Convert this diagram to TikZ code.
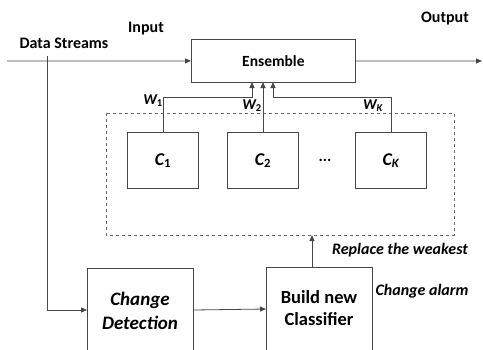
\documentclass[tikz,border=0pt]{standalone}
\usepackage{fontspec}
\setmainfont{Carlito}
\usetikzlibrary{arrows.meta}
\begin{document}
\begin{tikzpicture}[x=1pt,y=-1pt,
  line width=0.8pt,
  wire/.style={draw=black!72},
  flow/.style={wire,-{Triangle[length=6pt,width=5pt]}},
  box/.style={draw=black!72,fill=white,inner sep=0pt},
  lbl/.style={font=\bfseries\fontsize{16}{18}\selectfont},
  ilbl/.style={font=\bfseries\itshape\fontsize{16}{18}\selectfont},
  wlbl/.style={font=\bfseries\itshape\fontsize{15}{16}\selectfont},
  cls/.style={box,minimum width=71pt,minimum height=56pt,font=\bfseries\itshape\fontsize{18}{20}\selectfont},
  big/.style={box,minimum width=106pt,minimum height=110pt,anchor=north west}]
\useasboundingbox (0,0) rectangle (483,349);

% ensemble
\node[box,minimum width=164pt,minimum height=43pt,anchor=north west,font=\bfseries\fontsize{15.5}{17}\selectfont] (ens) at (191,39) {Ensemble};

% data stream input / output
\coordinate (in) at (7,61);
\coordinate (out) at (482,61);
\coordinate (tap) at (47,56);
\draw[flow] (in) -- (ens.west);
\draw[flow] (ens.east) -- (out);
\node[lbl] (tin) at (146,29) {Input};
\node[lbl] (tds) at (64,43) {Data Streams};
\node[lbl] (tout) at (445,19) {Output};

% ensemble members
\draw[wire,dashed,draw=black!60] (106,113) rectangle (454,235);
\node[cls,anchor=north west] (c1) at (127,132) {C\textsubscript{\upshape 1}};
\node[cls,anchor=north west] (c2) at (227,132) {C\textsubscript{\upshape 2}};
\node[cls,anchor=north west] (ck) at (355,132) {C\textsubscript{K}};
\node[font=\bfseries\fontsize{16}{18}\selectfont] (dots) at (325,160) {...};

% weighted votes
\coordinate (a1) at (252,82);
\coordinate (a2) at (263,82);
\coordinate (ak) at (273,82);
\draw[flow] (c1.north) |- (252,97) -- (a1);
\draw[flow] (c2.north -| a2) -- (a2);
\draw[flow] (ck.north) |- (273,97) -- (ak);
\node[wlbl] (w1) at (153,101) {W\textsubscript{\upshape 1}};
\node[wlbl] (w2) at (252,106) {W\textsubscript{\upshape 2}};
\node[wlbl] (wk) at (373,106) {W\textsubscript{K}};

% change handling
\node[big] (cd) at (87,268) {};
\node[big] (bn) at (266,267) {};
\node[align=center,font=\bfseries\itshape\fontsize{19}{24}\selectfont] (cdt) at (140,311) {Change\\Detection};
\node[align=center,font=\bfseries\fontsize{18.5}{22}\selectfont] (bnt) at (319,308) {Build new\\Classifier};
\draw[flow] (tap) |- (cd.west |- 0,310);
\draw[flow] (cd.east |- 0,310) -- (bn.west |- 0,309);
\coordinate (ens2) at (312,235);
\draw[flow] (bn.north -| ens2) -- (ens2);
\node[ilbl] (rw) at (400,250) {Replace the weakest};
\node[ilbl] (ca) at (422,291) {Change alarm};
\end{tikzpicture}
\end{document}
